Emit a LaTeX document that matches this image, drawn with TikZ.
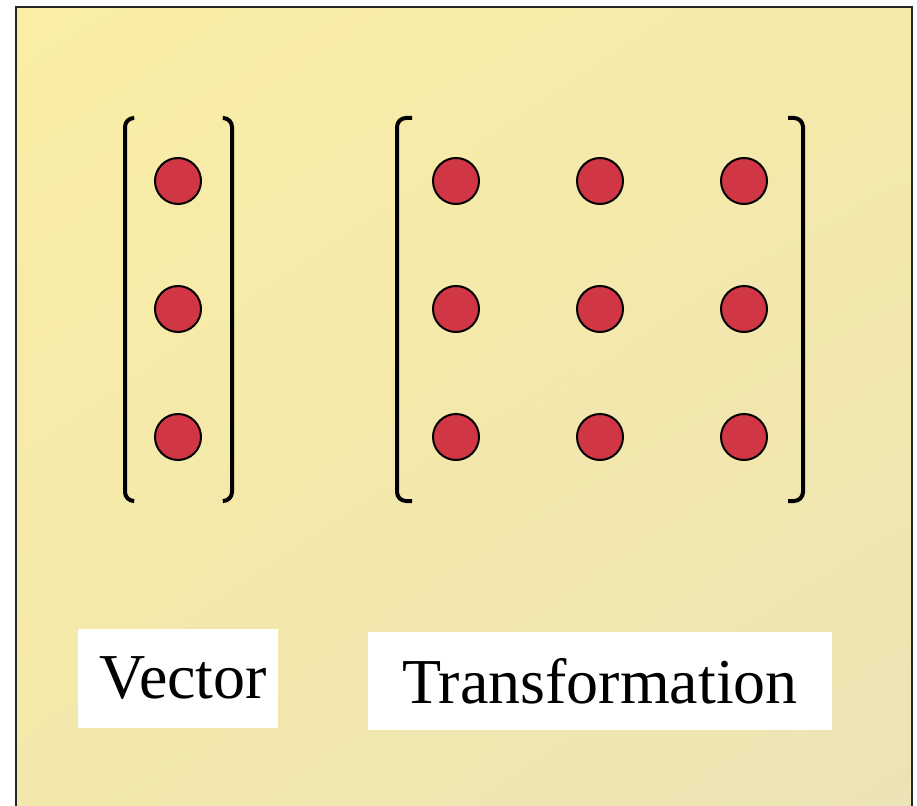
\documentclass[tikz,border=0pt]{standalone}
\usepackage{fontspec}
\setmainfont{Liberation Serif}
\usepackage{tikz}
\usetikzlibrary{shadings}

\definecolor{dotred}{RGB}{208,54,68}
\definecolor{paleA}{RGB}{250,238,164}
\definecolor{paleB}{RGB}{244,234,170}
\definecolor{paleC}{RGB}{242,232,172}
\definecolor{paleD}{RGB}{236,227,182}

\begin{document}
\begin{tikzpicture}[x=1pt,y=-1pt]
     \tikzstyle{every node}+=[inner sep=0pt]
     \tikzstyle{entry}=[circle, draw=black, line width=2pt, fill=dotred, minimum size=46pt]
     \tikzstyle{brack}=[black, line width=4pt, rounded corners=9pt]
     \tikzstyle{caption}=[fill=white, font=\fontsize{64}{70}\selectfont]
     \useasboundingbox (0,0) rectangle (917,805);
     % panel
     \shade [upper left=paleA, upper right=paleB, lower left=paleC, lower right=paleD] (15.5,7) rectangle (912,815);
     \draw [black!85, line width=2pt] (15.5,815) -- (15.5,7) -- (912,7) -- (912,815);
     % vector entries
     \foreach \r/\y in {1/181, 2/309, 3/437}
        \node [entry] (v\r) at (178,\y) {};
     % matrix entries
     \foreach \r/\y in {1/181, 2/309, 3/437}
        \foreach \c/\x in {1/456, 2/600, 3/744}
           \node [entry] (m\r\c) at (\x,\y) {};
     % brackets
     \draw [brack] (133,118) -- (125,118) -- (125,501) -- (133,501);
     \draw [brack] (224,118) -- (232,118) -- (232,501) -- (224,501);
     \draw [brack] (412,118) -- (397,118) -- (397,501) -- (412,501);
     \draw [brack] (788,118) -- (803,118) -- (803,501) -- (788,501);
     % labels
     \node [caption, minimum width=200pt, minimum height=99pt] (vec) at (178,678.5) {\hspace*{11pt}Vector};
     \node [caption, minimum width=464pt, minimum height=98pt] (trans) at (600,681) {Transformation};
\end{tikzpicture}
\end{document}
